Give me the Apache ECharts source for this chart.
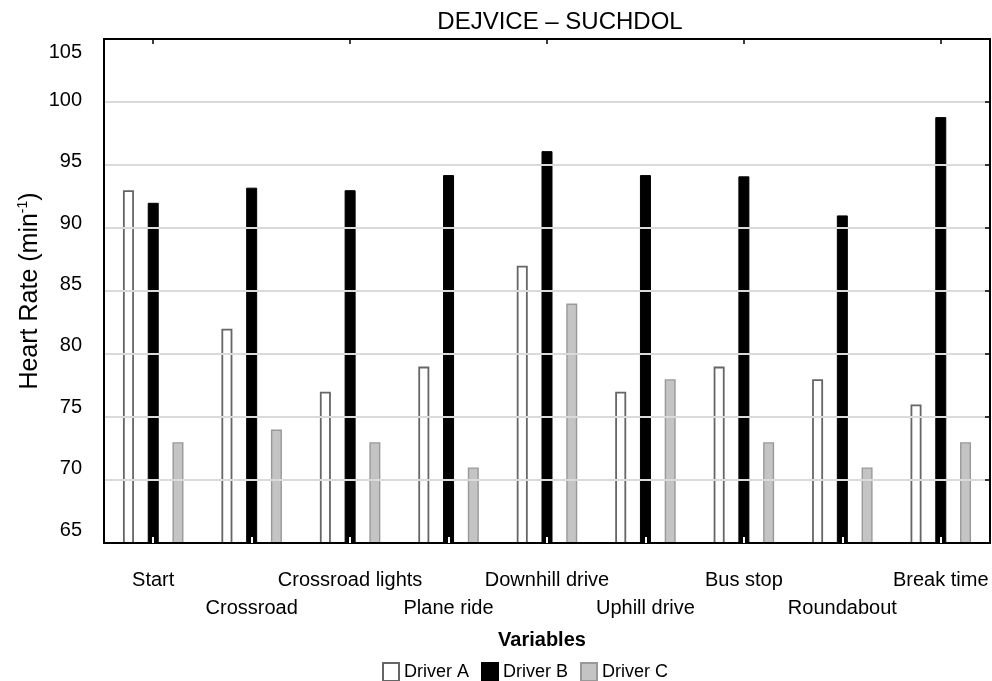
<!DOCTYPE html>
<html>
<head>
<meta charset="utf-8">
<script src="https://cdn.jsdelivr.net/npm/echarts@6/dist/echarts.min.js"></script>
<style>
html,body{margin:0;padding:0;background:#fff;}
#chart{width:992px;height:681px;}
</style>
</head>
<body>
<div id="chart"></div>
<script>
var categories = ["Start", "Crossroad", "Crossroad lights", "Plane ride", "Downhill drive", "Uphill drive", "Bus stop", "Roundabout", "Break time"];
var driverA = [93, 82, 77, 79, 87, 77, 79, 78, 76];
var driverB = [92, 93.2, 93, 94.2, 96.1, 94.2, 94.1, 91, 98.8];
var driverC = [73, 74, 73, 71, 84, 78, 73, 71, 73];
var yTicks = [65, 70, 75, 80, 85, 90, 95, 100, 105];

var FONT = "Liberation Sans, Arial, Helvetica, sans-serif";
var chart = echarts.init(document.getElementById('chart'));

var option = {
  backgroundColor: '#fff',
  animation: false,
  textStyle: {fontFamily: FONT, color: '#000'},
  title: [
    {text: 'DEJVICE \u2013 SUCHDOL', left: 555, top: 5, textAlign: 'center',
     textStyle: {fontFamily: FONT, fontSize: 24, fontWeight: 'normal', color: '#000'}},
    {text: 'Variables', left: 537, top: 625, textAlign: 'center',
     textStyle: {fontFamily: FONT, fontSize: 20, fontWeight: 'bold', color: '#000'}}
  ],
  legend: {
    left: 377, top: 657, icon: 'rect',
    itemWidth: 16, itemHeight: 18, itemGap: 12,
    textStyle: {fontFamily: FONT, fontSize: 18, color: '#000'},
    data: ['Driver A', 'Driver B', 'Driver C']
  },
  grid: [
    {left: 104, right: 2, top: 39, bottom: 138, show: false},
    {left: 104, right: 2, top: 39, bottom: 151, show: false}
  ],
  xAxis: [
    {type: 'category', gridIndex: 0, data: categories, boundaryGap: true, z: 5,
     axisLine: {lineStyle: {color: '#000', width: 2}},
     axisTick: {show: true, inside: true, length: 6, alignWithLabel: true, lineStyle: {color: '#fff', width: 2}},
     axisLabel: {fontFamily: FONT, fontSize: 20, color: '#000', lineHeight: 28, margin: 23, interval: 0,
       formatter: function (v, i) { return i % 2 ? '\n' + v : v; }}},
    {type: 'category', gridIndex: 0, data: categories, position: 'top', boundaryGap: true, z: 5,
     axisLine: {show: true, lineStyle: {color: '#000', width: 2}},
     axisTick: {show: true, inside: true, length: 5, alignWithLabel: true, lineStyle: {color: '#000', width: 1.5}},
     axisLabel: {show: false}},
    {type: 'category', gridIndex: 1, data: categories, show: false}
  ],
  yAxis: [
    {type: 'value', gridIndex: 0, min: 65, max: 105, interval: 5, z: 5,
     name: '{a|Heart Rate (min}{s|-1}{a|)}', nameLocation: 'middle', nameGap: 60, nameRotate: 90,
     nameTextStyle: {fontFamily: FONT, color: '#000',
       rich: {a: {fontFamily: FONT, fontSize: 25, color: '#000'},
              s: {fontFamily: FONT, fontSize: 14, color: '#000', padding: [0, 0, 14, 0]}}},
     axisLine: {show: true, lineStyle: {color: '#000', width: 2}},
     axisTick: {show: false},
     axisLabel: {show: false},
     splitLine: {show: true, lineStyle: {color: '#dadada', width: 2}}},
    {type: 'value', gridIndex: 0, min: 65, max: 105, interval: 5, position: 'right', z: 5,
     axisLine: {show: true, lineStyle: {color: '#000', width: 2}},
     axisTick: {show: true, inside: true, length: 5, lineStyle: {color: '#000', width: 1.5}},
     axisLabel: {show: false}, splitLine: {show: false}},
    {type: 'value', gridIndex: 1, min: 65, max: 105, interval: 5,
     axisLine: {show: false}, axisTick: {show: false}, splitLine: {show: false},
     axisLabel: {fontFamily: FONT, fontSize: 20, color: '#000', margin: 22,
       formatter: function (v) { return v === 105 ? '{t|' + v + '}' : String(v); },
       rich: {t: {fontFamily: FONT, fontSize: 20, color: '#000', padding: [26, 0, 0, 0]}}}}
  ],
  series: [
    {name: 'Driver A', type: 'bar', xAxisIndex: 0, yAxisIndex: 0, data: driverA,
     barWidth: 11, barGap: '125%',
     itemStyle: {color: '#ffffff', borderColor: '#666666', borderWidth: 1.8}},
    {name: 'Driver B', type: 'bar', xAxisIndex: 0, yAxisIndex: 0, data: driverB,
     barWidth: 11, barGap: '125%',
     itemStyle: {color: '#000000', borderColor: '#000', borderWidth: 1}},
    {name: 'Driver C', type: 'bar', xAxisIndex: 0, yAxisIndex: 0, data: driverC,
     barWidth: 11, barGap: '125%',
     itemStyle: {color: '#c4c4c4', borderColor: '#999999', borderWidth: 1.4}}
  ]
};
chart.setOption(option);
</script>
</body>
</html>
